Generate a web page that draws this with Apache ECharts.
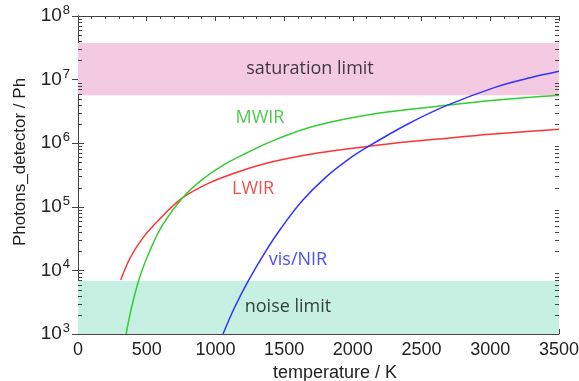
<!DOCTYPE html>
<html><head><meta charset="utf-8">
<script src="https://cdn.jsdelivr.net/npm/echarts@6/dist/echarts.min.js"></script>
<style>html,body{margin:0;padding:0;background:#fff}#c{width:579px;height:381px}</style>
</head><body><div id="c"></div>
<script>
// ---- data ----
const lwirT = [311, 380, 475, 600, 760, 960, 1180, 1400, 1700, 2000, 2300, 2600, 3000, 3500];
const lwirV = [7080, 15800, 33100, 66100, 138000, 240000, 363000, 501000, 676000, 832000, 1000000, 1150000, 1380000, 1650000];
const mwirT = [350, 390, 450, 525, 620, 760, 910, 1060, 1230, 1420, 1660, 1900, 2150, 2400, 2700, 3050, 3500];
const mwirV = [1000, 2630, 7940, 20900, 53700, 138000, 275000, 457000, 708000, 1096000, 1700000, 2290000, 2880000, 3390000, 3980000, 4790000, 5690000];
const visT = [1055, 1140, 1240, 1360, 1480, 1630, 1800, 1970, 2110, 2390, 2680, 3050, 3290, 3500];
const visV = [1000, 2630, 6920, 19100, 46800, 123000, 288000, 562000, 881000, 1950000, 3890000, 7760000, 10700000, 13500000];
const saturationBand = [5.7e6, 3.76e7];
const noiseBand = [1000, 6800];
const xTicks = [0, 500, 1000, 1500, 2000, 2500, 3000, 3500];
const yExponents = [3, 4, 5, 6, 7, 8];
const annotationNames = ['saturation limit', 'MWIR', 'LWIR', 'vis/NIR', 'noise limit'];
const annotationAt = [[1688, 1.48e7], [1324, 2.49e6], [1274, 1.91e5], [1601, 14600], [1528, 2660]];
const annotationColors = ['#111111', '#22bb22', '#ee2222', '#2222ee', '#111111'];

const pairs = (xs, ys) => xs.map((x, i) => [x, ys[i]]);
const minorLog = [];
for (let k = yExponents[0]; k < yExponents[yExponents.length - 1]; k++)
  for (let m = 2; m <= 9; m++) minorLog.push([0, m * Math.pow(10, k)]);

const axisFont = 'Liberation Sans, Arial, sans-serif';
const annFont = 'Open Sans, sans-serif';
const chart = echarts.init(document.getElementById('c'), null, {renderer: 'canvas'});
const frameLine = {show: true, lineStyle: {color: '#444', width: 1}};
chart.setOption({
  animation: false,
  backgroundColor: '#fff',
  grid: {left: 78, right: 20, top: 16, bottom: 47, containLabel: false, outerBoundsMode: 'none'},
  xAxis: [{
    type: 'value', min: xTicks[0], max: xTicks[xTicks.length - 1], interval: 500,
    position: 'bottom',
    name: 'temperature / K', nameLocation: 'middle', nameGap: 30,
    nameTextStyle: {fontFamily: axisFont, fontSize: 18, color: '#222', padding: [0, 0, 0, 33]},
    axisLine: frameLine,
    axisTick: {show: true, inside: true, length: 5, lineStyle: {color: '#444'}},
    minorTick: {show: true, splitNumber: 5, length: 3, lineStyle: {color: '#444'}},
    axisLabel: {fontFamily: axisFont, fontSize: 18, color: '#222', margin: 7, formatter: v => String(v)},
    splitLine: {show: false}
  }, {
    type: 'value', min: xTicks[0], max: xTicks[xTicks.length - 1], interval: 500,
    position: 'top',
    axisLine: frameLine,
    axisTick: {show: true, inside: true, length: 5, lineStyle: {color: '#444'}},
    minorTick: {show: true, splitNumber: 5, length: 3, lineStyle: {color: '#444'}},
    axisLabel: {show: false}, splitLine: {show: false}
  }],
  yAxis: [{
    type: 'log', logBase: 10, min: Math.pow(10, yExponents[0]), max: Math.pow(10, yExponents[yExponents.length - 1]),
    position: 'left',
    name: 'Photons_detector / Ph', nameLocation: 'middle', nameGap: 49, nameRotate: 90,
    nameTextStyle: {fontFamily: axisFont, fontSize: 17, color: '#222', padding: [0, 0, 0, 26]},
    axisLine: frameLine,
    axisTick: {show: true, inside: true, length: 6, lineStyle: {color: '#444'}},
    axisLabel: {
      margin: 8,
      formatter: v => '{b|10}{e|' + Math.round(Math.log10(v)) + '}',
      rich: {
        b: {fontFamily: axisFont, fontSize: 19, color: '#222'},
        e: {fontFamily: axisFont, fontSize: 13, color: '#222', padding: [0, 0, 11, 1]}
      }
    },
    splitLine: {show: false}
  }, {
    type: 'log', logBase: 10, min: Math.pow(10, yExponents[0]), max: Math.pow(10, yExponents[yExponents.length - 1]),
    position: 'right',
    axisLine: frameLine,
    axisTick: {show: true, inside: true, length: 6, lineStyle: {color: '#444'}},
    axisLabel: {show: false}, splitLine: {show: false}
  }],
  series: [
    {
      type: 'line', data: [], z: 1, silent: true,
      markArea: {
        silent: true,
        data: [
          [{yAxis: saturationBand[0], itemStyle: {color: '#f4c9e2'}}, {yAxis: saturationBand[1]}],
          [{yAxis: noiseBand[0], itemStyle: {color: '#c6f0e1'}}, {yAxis: noiseBand[1]}]
        ]
      }
    },
    {name: 'LWIR', type: 'line', data: pairs(lwirT, lwirV), smooth: 0.35, showSymbol: false, z: 3,
     lineStyle: {color: '#ff3333', width: 1.5}},
    {name: 'MWIR', type: 'line', data: pairs(mwirT, mwirV), smooth: 0.35, showSymbol: false, z: 3,
     lineStyle: {color: '#33cc33', width: 1.5}},
    {name: 'vis/NIR', type: 'line', data: pairs(visT, visV), smooth: 0.35, showSymbol: false, z: 3,
     lineStyle: {color: '#3333ff', width: 1.5}},
    {
      type: 'scatter', symbolSize: 0, z: 4, silent: true,
      data: annotationNames.map((n, i) => ({
        name: n, value: annotationAt[i],
        label: {show: true, position: 'inside', formatter: '{b}', color: annotationColors[i],
                fontFamily: annFont, fontSize: 18}
      }))
    },
    {
      type: 'custom', z: 5, silent: true, clip: false,
      data: minorLog,
      renderItem: (params, api) => {
        const y = Math.round(api.coord([api.value(0), api.value(1)])[1]) + 0.5;
        const cs = params.coordSys;
        return {type: 'group', children: [
          {type: 'line', shape: {x1: cs.x, y1: y, x2: cs.x + 4, y2: y}, style: {stroke: '#444', lineWidth: 1}},
          {type: 'line', shape: {x1: cs.x + cs.width, y1: y, x2: cs.x + cs.width - 4, y2: y}, style: {stroke: '#444', lineWidth: 1}}
        ]};
      }
    }
  ]
});
</script></body></html>
